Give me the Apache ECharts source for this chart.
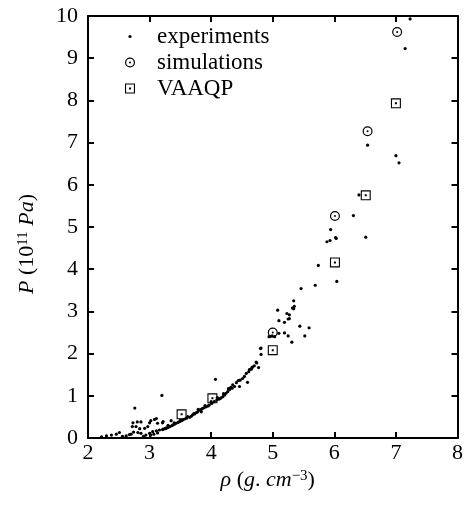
<!DOCTYPE html>
<html>
<head>
<meta charset="utf-8">
<script src="https://cdn.jsdelivr.net/npm/echarts@6/dist/echarts.min.js"></script>
<style>html,body{margin:0;padding:0;background:#fff;}#c{width:466px;height:506px;}</style>
</head>
<body>
<div id="c"></div>
<script>
// ---- data ----
var xTicks = [2, 3, 4, 5, 6, 7, 8];
var yTicks = [0, 1, 2, 3, 4, 5, 6, 7, 8, 9, 10];
var seriesNames = ['experiments', 'simulations', 'VAAQP'];

var experiments = [
  [2.22,0.03],[2.30,0.05],[2.38,0.07],[2.46,0.09],[2.51,0.13],[2.56,0.04],[2.62,0.05],[2.67,0.08],
  [2.70,0.09],[2.74,0.14],[2.81,0.13],[2.86,0.11],[2.90,0.04],[2.94,0.07],[3.00,0.11],[3.02,0.07],
  [3.05,0.15],[3.07,0.09],[3.11,0.17],[3.13,0.12],[3.16,0.19],[3.21,0.20],
  [2.72,0.27],[2.78,0.27],[2.84,0.22],[2.92,0.23],[2.97,0.27],[2.73,0.36],[2.80,0.38],[2.86,0.38],
  [3.00,0.36],[3.02,0.41],[3.08,0.44],[3.11,0.46],[3.13,0.35],[3.21,0.36],[3.27,0.23],[2.76,0.71],
  [3.20,1.01],[3.35,0.41],[3.22,0.39],
  [3.22,0.21],[3.25,0.22],[3.27,0.24],[3.30,0.25],[3.33,0.27],[3.36,0.29],[3.38,0.31],[3.41,0.33],
  [3.43,0.35],[3.46,0.37],[3.49,0.39],[3.52,0.41],[3.54,0.43],[3.57,0.45],[3.60,0.47],[3.65,0.49],
  [3.68,0.52],[3.70,0.55],[3.73,0.57],[3.76,0.60],[3.78,0.62],[3.81,0.66],[3.84,0.68],[3.86,0.70],
  [3.89,0.72],[3.92,0.74],[3.95,0.76],[3.97,0.78],[4.01,0.82],[4.05,0.86],[4.09,0.90],[4.12,0.92],
  [4.14,0.93],[4.16,0.95],[4.19,0.98],[4.22,1.02],[4.24,1.06],[4.27,1.10],[4.30,1.15],[4.32,1.20],
  [4.35,1.26],[4.38,1.22],[4.34,1.18],[4.41,1.31],[4.44,1.36],
  [3.30,0.30],[3.40,0.36],[3.50,0.42],[3.62,0.51],[3.72,0.58],[3.79,0.68],[3.84,0.62],[3.90,0.77],
  [4.00,0.86],[4.10,0.96],[4.20,1.05],[4.28,1.17],[4.07,1.39],
  [4.46,1.22],[4.47,1.37],[4.51,1.41],[4.54,1.46],[4.57,1.53],[4.59,1.32],[4.61,1.57],[4.62,1.62],
  [4.65,1.63],[4.66,1.66],[4.67,1.68],[4.70,1.71],[4.73,1.80],[4.74,1.78],[4.77,1.67],[4.80,2.12],
  [4.81,1.98],[4.81,2.13],[4.94,2.40],[4.96,2.41],[4.99,2.42],[5.03,2.40],[5.08,3.03],[5.10,2.78],
  [5.10,2.48],[5.19,2.49],[5.19,2.74],[5.23,2.95],[5.25,2.82],[5.25,2.42],[5.27,2.92],[5.27,2.83],
  [5.31,2.27],[5.32,3.08],[5.34,3.06],[5.34,3.25],[5.35,3.12],[5.44,2.65],[5.46,3.54],[5.52,2.42],
  [5.59,2.61],[5.69,3.62],[5.74,4.09],[5.88,4.65],[5.93,4.68],[5.94,4.94],[6.02,4.75],[6.03,4.73],
  [6.04,3.71],[6.31,5.27],[6.40,5.76],[6.51,4.76],[6.54,6.94],[7.00,6.69],[7.05,6.52],[7.15,9.23],
  [7.23,9.93]
];
var simulations = [[5.00,2.50],[6.01,5.26],[6.54,7.27],[7.02,9.62]];
var vaaqp = [[3.52,0.56],[4.02,0.94],[5.00,2.08],[6.01,4.16],[6.51,5.75],[7.00,7.93]];

// ---- styling ----
var FONT = 'Liberation Serif';
var dotSym = 'path://M-5,-5 M5,5 M-1.6,0 A1.6,1.6 0 1 1 1.6,0 A1.6,1.6 0 1 1 -1.6,0 Z';
var ringSym = 'path://M0,-5 A5,5 0 1 1 0,5 A5,5 0 1 1 0,-5 Z M0,-3.8 A3.8,3.8 0 1 0 0,3.8 A3.8,3.8 0 1 0 0,-3.8 Z M-1,0 A1,1 0 1 1 1,0 A1,1 0 1 1 -1,0 Z';
var boxSym = 'path://M-5,-5 L5,-5 L5,5 L-5,5 Z M-3.9,-3.9 L-3.9,3.9 L3.9,3.9 L3.9,-3.9 Z M-1,-1 L1,-1 L1,1 L-1,1 Z';

var axisLine = {show: true, onZero: false, lineStyle: {color: '#000', width: 2}};
var tick = {show: true, inside: true, length: 6, lineStyle: {color: '#000', width: 2}};
var richName = {
  it: {fontFamily: FONT, fontSize: 22, fontStyle: 'italic', color: '#000', lineHeight: 22, verticalAlign: 'bottom'},
  rm: {fontFamily: FONT, fontSize: 22, color: '#000', lineHeight: 22, verticalAlign: 'bottom'},
  sup: {fontFamily: FONT, fontSize: 15, color: '#000', lineHeight: 15, verticalAlign: 'top', padding: [0, 0, 12, 0]}
};

var chart = echarts.init(document.getElementById('c'), null, {renderer: 'canvas'});
chart.setOption({
  animation: false,
  backgroundColor: '#fff',
  grid: {left: 88, right: 7, top: 16, bottom: 68, containLabel: false},
  legend: {
    data: seriesNames,
    orient: 'vertical',
    left: 120, top: 20,
    itemWidth: 44, itemHeight: 10, itemGap: 3,
    symbolKeepAspect: true,
    textStyle: {fontFamily: FONT, fontSize: 23, color: '#000', lineHeight: 23}
  },
  xAxis: [{
    type: 'value', position: 'bottom', min: xTicks[0], max: xTicks[xTicks.length - 1], interval: 1,
    axisLine: axisLine, axisTick: tick, splitLine: {show: false},
    axisLabel: {fontFamily: FONT, fontSize: 22, color: '#000', margin: 4, lineHeight: 22},
    name: '{it|ρ}{rm| (}{it|g}{rm|. }{it|cm}{sup|−3}{rm|)}',
    nameLocation: 'middle', nameGap: 30,
    nameTextStyle: {rich: richName, padding: [0, 10, 0, 0]}
  }, {
    type: 'value', position: 'top', min: xTicks[0], max: xTicks[xTicks.length - 1], interval: 1,
    axisLine: axisLine, axisTick: tick, splitLine: {show: false}, axisLabel: {show: false}
  }],
  yAxis: [{
    type: 'value', position: 'left', min: yTicks[0], max: yTicks[yTicks.length - 1], interval: 1,
    axisLine: axisLine, axisTick: tick, splitLine: {show: false},
    axisLabel: {fontFamily: FONT, fontSize: 22, color: '#000', margin: 10},
    name: '{it|P}{rm| (10}{sup|11}{it| Pa}{rm|)}',
    nameLocation: 'middle', nameGap: 50,
    nameTextStyle: {rich: richName, padding: [0, 34, 0, 0]}
  }, {
    type: 'value', position: 'right', min: yTicks[0], max: yTicks[yTicks.length - 1], interval: 1,
    axisLine: axisLine, axisTick: tick, splitLine: {show: false}, axisLabel: {show: false}
  }],
  series: [{
    name: seriesNames[0], type: 'scatter', data: experiments,
    symbol: dotSym, symbolSize: 10, itemStyle: {color: '#000', opacity: 1}
  }, {
    name: seriesNames[1], type: 'scatter', data: simulations,
    symbol: ringSym, symbolSize: 10, itemStyle: {color: '#000', opacity: 1}
  }, {
    name: seriesNames[2], type: 'scatter', data: vaaqp,
    symbol: boxSym, symbolSize: 10, itemStyle: {color: '#000', opacity: 1}
  }]
});
</script>
</body>
</html>
